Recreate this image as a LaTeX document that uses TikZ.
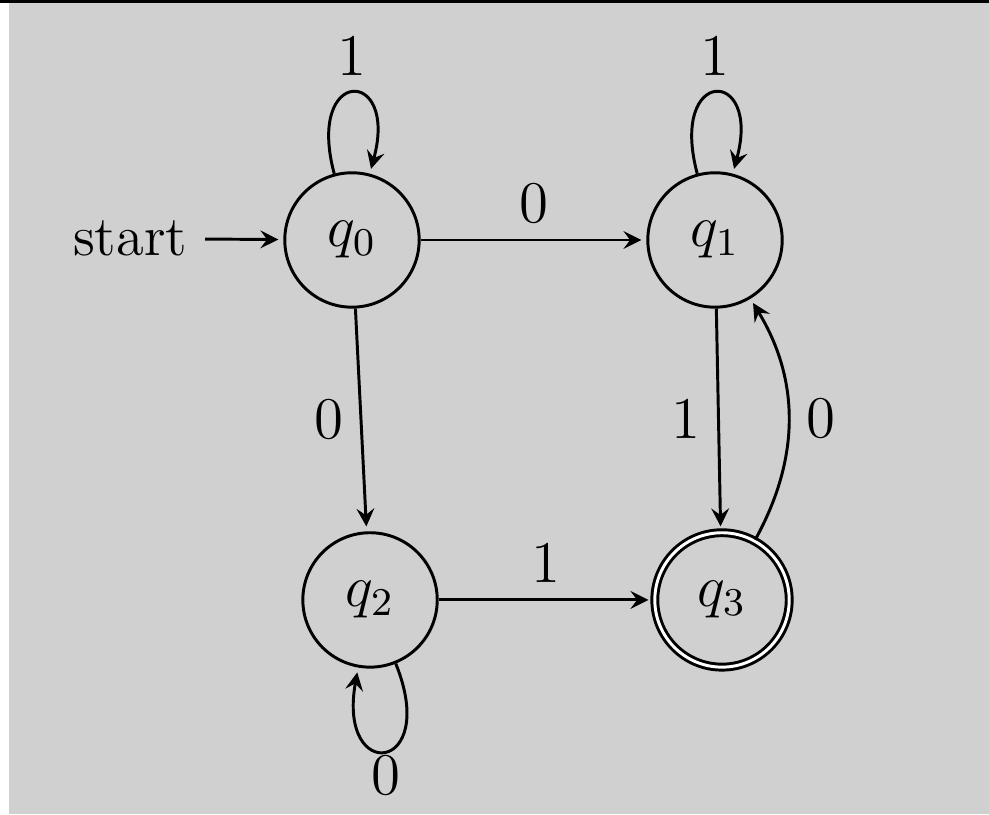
\documentclass[tikz,border=0pt]{standalone}
\usepackage{amsmath, amssymb, tikz}

\definecolor{paper}{RGB}{208,208,208}

\begin{document}
\begin{tikzpicture}
            [->, >=stealth, shorten >=1pt, auto, node distance=2.8cm, semithick,
             font=\fontsize{11.5}{13}\selectfont,
             state/.style={shape=circle, draw=black, minimum size=0.96cm}]
            % page
            \useasboundingbox (0,0) rectangle (7.064,5.814);
            \fill[paper] (0,0) rectangle (7.064,5.814);
            \fill[white] (0,0) rectangle (0.064,5.80);
            \fill[black] (0,5.795) rectangle (7.064,5.814);

            \node[state] (q0) at (2.514, 4.100) {$q_0$};
            \node[state] (q1) at (5.107, 4.100) {$q_1$};
            \node[state] (q2) at (2.643, 1.529) {$q_2$};
            \node[state, double] (q3) at (5.157, 1.529) {$q_3$};
            \node[draw=none] (start) at (0.93, 4.11) {start};

            \path [->] (start) edge node {} (q0);
            \path [->] (q0) edge [loop above] node {$1$} (q0);
            \path [->] (q0) edge node {$0$} (q1);
            \path [->] (q0) edge node [left] {$0$} (q2);
            \path [->] (q1) edge [loop above] node {$1$} (q1);
            \path [->] (q1) edge node [left] {$1$} (q3);
            \path [->] (q2) edge [loop below, out=-68, in=-100, looseness=8] node [below, inner sep=1pt] {$0$} (q2);
            \path [->] (q2) edge node {$1$} (q3);
            \path [->] (q3) edge [bend right=30] node [right] {$0$} (q1);
        \end{tikzpicture}
\end{document}
